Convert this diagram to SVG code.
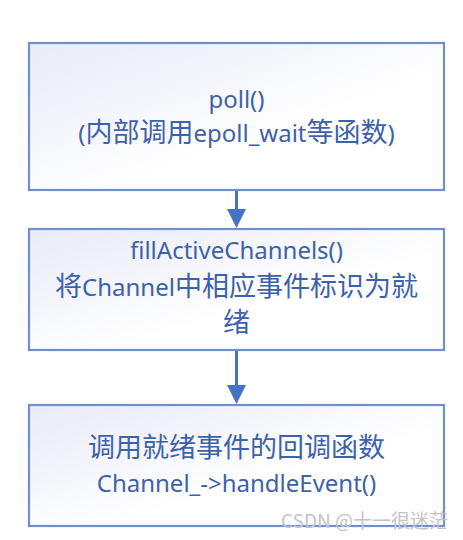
<svg xmlns="http://www.w3.org/2000/svg" width="463" height="540" viewBox="0 0 463 540">
<style>
.box{stroke:#7090cc;stroke-width:2.2;fill:url(#g)}
.t{font-family:"Noto Sans CJK SC","Noto Sans",sans-serif;font-size:27px;fill:#3d62aa;text-anchor:middle}
.l{font-family:"Noto Sans","Noto Sans CJK SC",sans-serif;font-size:24px}
.c{stroke:#4472c4;stroke-width:3;fill:none}
.wm{font-family:"Noto Sans CJK SC","Liberation Sans",sans-serif;font-size:19px;fill:#c4c4c4}
</style>
<defs>
<linearGradient id="g" x1="0" y1="0" x2="1" y2="1">
<stop offset="0" stop-color="#e8ebf6"/>
<stop offset="0.6" stop-color="#ffffff"/>
</linearGradient>
</defs>
<rect width="463" height="540" fill="#ffffff"/>
<g id="connectors">
<line class="c" x1="236.5" y1="190" x2="236.5" y2="210"/>
<path d="M227,209 L246,209 L236.5,228 Z" fill="#4472c4"/>
<line class="c" x1="236.5" y1="350" x2="236.5" y2="386"/>
<path d="M227,385 L246,385 L236.5,404 Z" fill="#4472c4"/>
</g>
<g id="node1">
<rect class="box" x="29" y="43" width="415" height="147"/>
<text class="t" x="236.5" y="108"><tspan class="l">poll()</tspan></text>
<text class="t" x="236.5" y="142"><tspan class="l">(</tspan>内部调用<tspan class="l">epoll_wait</tspan>等函数<tspan class="l">)</tspan></text>
</g>
<g id="node2">
<rect class="box" x="29" y="229" width="415" height="121"/>
<text class="t" x="236.5" y="259"><tspan class="l">fillActiveChannels()</tspan></text>
<text class="t" x="236.5" y="296">将<tspan class="l">Channel</tspan>中相应事件标识为就</text>
<text class="t" x="236.5" y="332">绪</text>
</g>
<g id="node3">
<rect class="box" x="29" y="405" width="415" height="121"/>
<text class="t" x="236.5" y="457">调用就绪事件的回调函数</text>
<text class="t" x="236.5" y="492"><tspan class="l">Channel_-&gt;handleEvent()</tspan></text>
</g>
<text class="wm" x="448" y="528" text-anchor="end">CSDN @十一很迷茫</text>
</svg>
